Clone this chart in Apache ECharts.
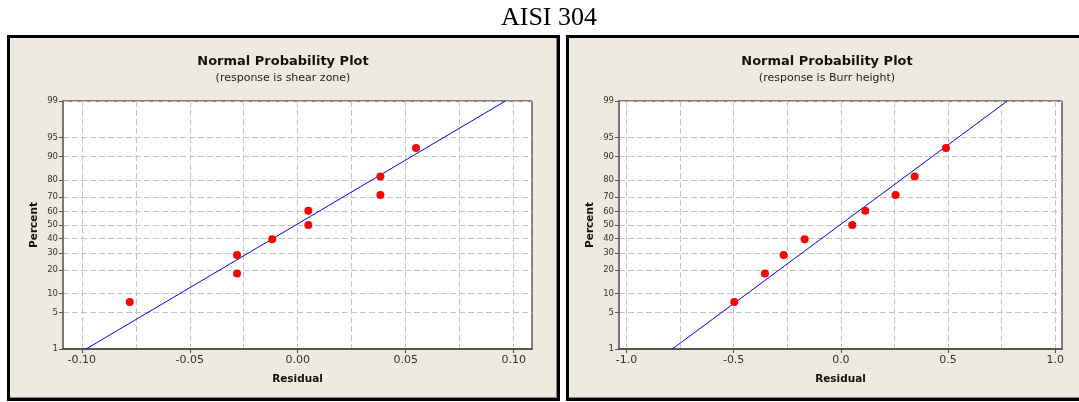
<!DOCTYPE html>
<html>
<head>
<meta charset="utf-8">
<script src="https://cdn.jsdelivr.net/npm/echarts@6/dist/echarts.min.js"></script>
<style>html,body{margin:0;padding:0;background:#fff}#c{width:1079px;height:402px}</style>
</head>
<body>
<div id="c"></div>
<script>
// ---- data ----
const PCT_TICKS = [1, 5, 10, 20, 30, 40, 50, 60, 70, 80, 90, 95, 99];
const PCT_POINTS = [7.4, 18.1, 28.7, 39.4, 50, 60.6, 71.3, 81.9, 92.6];
const SHEAR_RESID = [-0.0778, -0.0281, -0.0281, -0.0118, 0.0049, 0.0049, 0.0383, 0.0383, 0.0548];
const BURR_RESID = [-0.497, -0.354, -0.267, -0.169, 0.053, 0.114, 0.255, 0.344, 0.490];
const SHEAR_FIT = [[-0.098, 1], [0.0962, 99]];
const BURR_FIT = [[-0.786, 1], [0.776, 99]];
const SHEAR_X_LABELS = [-0.10, -0.05, 0.00, 0.05, 0.10];
const SHEAR_X_GRID = [-0.10, -0.075, -0.05, -0.025, 0, 0.025, 0.05, 0.075, 0.10];
const BURR_X_LABELS = [-1.0, -0.5, 0.0, 0.5, 1.0];
const BURR_X_GRID = [-1.0, -0.75, -0.5, -0.25, 0, 0.25, 0.5, 0.75, 1.0];

// inverse normal CDF (Acklam) for the normal-probability axis
function invNorm(p) {
  const a = [-3.969683028665376e+01, 2.209460984245205e+02, -2.759285104469687e+02, 1.383577518672690e+02, -3.066479806614716e+01, 2.506628277459239e+00];
  const b = [-5.447609879822406e+01, 1.615858368580409e+02, -1.556989798598866e+02, 6.680131188771972e+01, -1.328068155288572e+01];
  const c = [-7.784894002430293e-03, -3.223964580411365e-01, -2.400758277161838e+00, -2.549732539343734e+00, 4.374664141464968e+00, 2.938163982698783e+00];
  const d = [7.784695709041462e-03, 3.224671290700398e-01, 2.445134137142996e+00, 3.754408661907416e+00];
  const pl = 0.02425, ph = 1 - pl;
  let q, r;
  if (p < pl) { q = Math.sqrt(-2 * Math.log(p)); return (((((c[0]*q+c[1])*q+c[2])*q+c[3])*q+c[4])*q+c[5]) / ((((d[0]*q+d[1])*q+d[2])*q+d[3])*q+1); }
  if (p <= ph) { q = p - 0.5; r = q*q; return (((((a[0]*r+a[1])*r+a[2])*r+a[3])*r+a[4])*r+a[5])*q / (((((b[0]*r+b[1])*r+b[2])*r+b[3])*r+b[4])*r+1); }
  q = Math.sqrt(-2 * Math.log(1 - p));
  return -(((((c[0]*q+c[1])*q+c[2])*q+c[3])*q+c[4])*q+c[5]) / ((((d[0]*q+d[1])*q+d[2])*q+d[3])*q+1);
}
const z = pct => invNorm(pct / 100);
const Z_TICKS = PCT_TICKS.map(z);
const Z_MIN = z(1), Z_MAX = z(99);

function yLabel(v) {
  let best = 0, bd = 1e9;
  Z_TICKS.forEach((t, i) => { const dd = Math.abs(t - v); if (dd < bd) { bd = dd; best = i; } });
  return String(PCT_TICKS[best]);
}

const FONT = 'DejaVu Sans';
const grids = [
  { left: 63, top: 101, width: 469, height: 248, show: true, backgroundColor: '#fff', borderColor: '#111', borderWidth: 1 },
  { left: 619, top: 101, width: 443, height: 248, show: true, backgroundColor: '#fff', borderColor: '#111', borderWidth: 1 }
];

function xAxes(gi, min, max, labels, gridVals, dec) {
  return [
    { type: 'value', gridIndex: gi, min, max, position: 'bottom',
      axisLine: { show: true, onZero: false, lineStyle: { color: '#555', width: 2 } },
      axisTick: { show: true, length: 4, customValues: labels, lineStyle: { color: '#555' } },
      axisLabel: { customValues: labels, formatter: v => v.toFixed(dec), fontFamily: FONT, fontSize: 11, color: '#333', margin: 6 },
      splitLine: { show: false },
      name: 'Residual', nameLocation: 'middle', nameGap: 25,
      nameTextStyle: { fontFamily: FONT, fontSize: 10.5, fontWeight: 'bold', color: '#111' } },
    { type: 'value', gridIndex: gi, min, max, position: 'bottom',
      axisLine: { show: false }, axisTick: { show: false, customValues: gridVals },
      axisLabel: { show: false },
      splitLine: { show: true, lineStyle: { color: '#c4c4c4', type: [6, 3], width: 1 } } }
  ];
}
function yAxis(gi) {
  return { type: 'value', gridIndex: gi, min: Z_MIN, max: Z_MAX,
    axisLine: { show: true, onZero: false, lineStyle: { color: '#777', width: 2 } },
    axisTick: { show: true, length: 4, customValues: Z_TICKS, lineStyle: { color: '#555' } },
    axisLabel: { customValues: Z_TICKS, formatter: yLabel, fontFamily: FONT, fontSize: 8.5, color: '#333', margin: 5 },
    splitLine: { show: true, lineStyle: { color: '#c4c4c4', type: [6, 3], width: 1 } },
    name: 'Percent', nameLocation: 'middle', nameGap: 23, nameRotate: 90,
    nameTextStyle: { fontFamily: FONT, fontSize: 10.5, fontWeight: 'bold', color: '#111' } };
}

const toPts = (xs) => xs.map((x, i) => [x, z(PCT_POINTS[i])]);
const toLine = (f) => f.map(p => [p[0], z(p[1])]);

const chart = echarts.init(document.getElementById('c'), null, { renderer: 'canvas' });
chart.setOption({
  animation: false,
  backgroundColor: '#fff',
  graphic: [
    { type: 'rect', shape: { x: 8.5, y: 36.5, width: 550, height: 363 }, style: { fill: '#EEEAE0', stroke: '#000', lineWidth: 3 }, z: -10 },
    { type: 'line', shape: { x1: 10, y1: 397.5, x2: 556.5, y2: 397.5 }, style: { stroke: '#888', lineWidth: 1 }, z: -9 },
    { type: 'line', shape: { x1: 556.5, y1: 38, x2: 556.5, y2: 398 }, style: { stroke: '#888', lineWidth: 1 }, z: -9 },
    { type: 'rect', shape: { x: 567.5, y: 36.5, width: 520, height: 363 }, style: { fill: '#EEEAE0', stroke: '#000', lineWidth: 3 }, z: -10 },
    { type: 'line', shape: { x1: 569, y1: 397.5, x2: 1079, y2: 397.5 }, style: { stroke: '#888', lineWidth: 1 }, z: -9 },
    { type: 'text', x: 549, y: 18, style: { text: 'AISI 304', font: '26px "Liberation Serif"', fill: '#000', align: 'center', verticalAlign: 'middle' } },
    { type: 'text', x: 283, y: 62, style: { text: 'Normal Probability Plot', font: 'bold 13px "DejaVu Sans"', fill: '#111', align: 'center', verticalAlign: 'middle' } },
    { type: 'text', x: 283, y: 78, style: { text: '(response is shear zone)', font: '11px "DejaVu Sans"', fill: '#222', align: 'center', verticalAlign: 'middle' } },
    { type: 'text', x: 827, y: 62, style: { text: 'Normal Probability Plot', font: 'bold 13px "DejaVu Sans"', fill: '#111', align: 'center', verticalAlign: 'middle' } },
    { type: 'text', x: 827, y: 78, style: { text: '(response is Burr height)', font: '11px "DejaVu Sans"', fill: '#222', align: 'center', verticalAlign: 'middle' } }
  ],
  grid: grids,
  xAxis: [].concat(
    xAxes(0, -0.1087, 0.1085, SHEAR_X_LABELS, SHEAR_X_GRID, 2),
    xAxes(1, -1.0345, 1.031, BURR_X_LABELS, BURR_X_GRID, 1)
  ),
  yAxis: [yAxis(0), yAxis(1)],
  series: [
    { type: 'line', xAxisIndex: 0, yAxisIndex: 0, data: toLine(SHEAR_FIT), symbol: 'none', lineStyle: { color: '#0000ff', width: 1 }, z: 3 },
    { type: 'scatter', xAxisIndex: 0, yAxisIndex: 0, data: toPts(SHEAR_RESID), symbolSize: 8, itemStyle: { color: '#ff0000', opacity: 1 }, z: 4 },
    { type: 'line', xAxisIndex: 2, yAxisIndex: 1, data: toLine(BURR_FIT), symbol: 'none', lineStyle: { color: '#0000ff', width: 1 }, z: 3 },
    { type: 'scatter', xAxisIndex: 2, yAxisIndex: 1, data: toPts(BURR_RESID), symbolSize: 8, itemStyle: { color: '#ff0000', opacity: 1 }, z: 4 }
  ]
});
</script>
</body>
</html>
